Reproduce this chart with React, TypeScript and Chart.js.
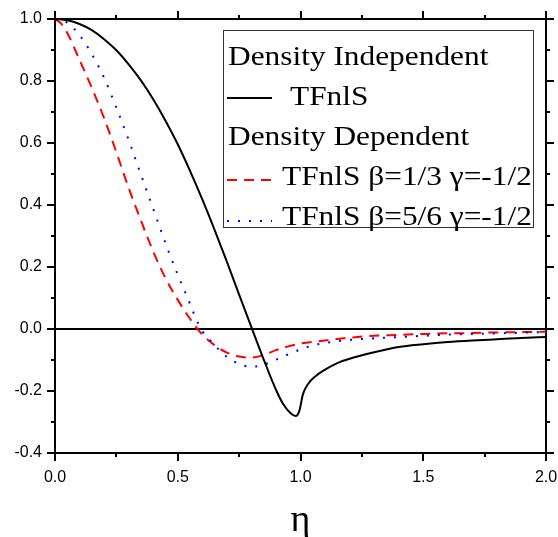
import React, { useEffect, useRef } from "react";
import { Chart, registerables } from "chart.js";

Chart.register(...registerables);

// ---- data ----
const etaBlack = [0, 0.05, 0.1, 0.15, 0.2, 0.25, 0.3, 0.35, 0.4, 0.45, 0.5, 0.55, 0.6, 0.65, 0.7, 0.75, 0.8, 0.85, 0.9, 0.93, 0.96, 0.98, 0.995, 1.01, 1.03, 1.06, 1.1, 1.15, 1.2, 1.3, 1.4, 1.5, 1.6, 1.7, 1.8, 1.9, 2.0];
const valBlack = [1.0, 0.996, 0.984, 0.964, 0.935, 0.899, 0.854, 0.802, 0.741, 0.672, 0.596, 0.51, 0.418, 0.32, 0.217, 0.111, 0.006, -0.098, -0.196, -0.243, -0.272, -0.281, -0.265, -0.21, -0.178, -0.153, -0.131, -0.11, -0.096, -0.075, -0.058, -0.049, -0.042, -0.037, -0.033, -0.029, -0.026];

const etaRed = [0, 0.025, 0.05, 0.1, 0.15, 0.2, 0.25, 0.3, 0.35, 0.4, 0.45, 0.5, 0.55, 0.6, 0.65, 0.7, 0.75, 0.8, 0.85, 0.9, 0.95, 1.0, 1.1, 1.2, 1.3, 1.4, 1.5, 1.6, 1.7, 1.8, 1.9, 2.0];
const valRed = [1.0, 0.985, 0.955, 0.868, 0.778, 0.68, 0.57, 0.455, 0.35, 0.25, 0.164, 0.094, 0.033, -0.018, -0.052, -0.076, -0.089, -0.092, -0.084, -0.068, -0.056, -0.047, -0.037, -0.028, -0.022, -0.019, -0.016, -0.014, -0.013, -0.011, -0.01, -0.009];

const etaBlue = [0, 0.05, 0.1, 0.15, 0.2, 0.25, 0.3, 0.35, 0.4, 0.45, 0.5, 0.55, 0.575, 0.6, 0.625, 0.65, 0.7, 0.75, 0.8, 0.85, 0.9, 0.95, 1.0, 1.05, 1.1, 1.2, 1.3, 1.4, 1.5, 1.6, 1.7, 1.8, 1.9, 2.0];
const valBlue = [1.0, 0.988, 0.948, 0.887, 0.81, 0.714, 0.61, 0.498, 0.388, 0.277, 0.175, 0.081, 0.032, -0.007, -0.03, -0.052, -0.09, -0.113, -0.122, -0.115, -0.099, -0.082, -0.066, -0.053, -0.045, -0.035, -0.03, -0.026, -0.022, -0.018, -0.016, -0.014, -0.012, -0.01];

const zeroLineEta = [0, 2];
const zeroLineVal = [0, 0];

const xMajorTicks = [0, 0.5, 1.0, 1.5, 2.0];
const xMinorTicks = [0.25, 0.75, 1.25, 1.75];
const yMajorTicks = [-0.4, -0.2, 0, 0.2, 0.4, 0.6, 0.8, 1.0];
const yMinorTicks = [-0.3, -0.1, 0.1, 0.3, 0.5, 0.7, 0.9];

const legendHeader1 = "Density Independent";
const legendHeader2 = "Density Dependent";
const seriesLabels = ["TFnlS", "TFnlS \u03B2=1/3 \u03B3=-1/2", "TFnlS \u03B2=5/6 \u03B3=-1/2"];
const xTitle = "\u03B7";

const pairs = (xs: number[], ys: number[]) => xs.map((x, i) => ({ x, y: ys[i] }));

const SERIF = '"Liberation Serif", "Times New Roman", serif';
const SANS = '"Liberation Sans", Arial, sans-serif';

const tickPlugin = {
  id: "tickMarks",
  afterDraw(chart: any) {
    const ctx = chart.ctx;
    const { left, right, top, bottom } = chart.chartArea;
    const xs = chart.scales.x;
    const ys = chart.scales.y;
    ctx.save();
    ctx.strokeStyle = "#000";
    ctx.lineWidth = 2;
    const major = 8, minor = 4;
    const drawX = (v: number, len: number) => {
      const px = Math.round(xs.getPixelForValue(v));
      ctx.beginPath();
      ctx.moveTo(px, bottom);
      ctx.lineTo(px, bottom + len);
      ctx.moveTo(px, top);
      ctx.lineTo(px, top - len);
      ctx.stroke();
    };
    const drawY = (v: number, len: number) => {
      const py = Math.round(ys.getPixelForValue(v));
      ctx.beginPath();
      ctx.moveTo(left, py);
      ctx.lineTo(left - len, py);
      ctx.moveTo(right, py);
      ctx.lineTo(right + len, py);
      ctx.stroke();
    };
    xMajorTicks.forEach((v) => drawX(v, major));
    xMinorTicks.forEach((v) => drawX(v, minor));
    yMajorTicks.forEach((v) => drawY(v, major));
    yMinorTicks.forEach((v) => drawY(v, minor));

    // axis title
    ctx.fillStyle = "#000";
    ctx.font = `38px ${SERIF}`;
    ctx.textAlign = "center";
    ctx.textBaseline = "alphabetic";
    ctx.fillText(xTitle, (left + right) / 2, 531);

    // legend
    const bx = 223, by = 30, bw = 310, bh = 197;
    ctx.fillStyle = "#fff";
    ctx.fillRect(bx, by, bw, bh);
    ctx.strokeStyle = "#333";
    ctx.lineWidth = 1;
    ctx.strokeRect(bx + 0.5, by + 0.5, bw, bh);

    const text = (s: string, x: number, y: number) => {
      ctx.save();
      ctx.translate(x, y);
      ctx.scale(1.12, 1);
      ctx.fillStyle = "#000";
      ctx.font = `28px ${SERIF}`;
      ctx.textAlign = "left";
      ctx.textBaseline = "alphabetic";
      ctx.fillText(s, 0, 0);
      ctx.restore();
    };
    const sample = (y: number, color: string, dash: number[]) => {
      ctx.save();
      ctx.strokeStyle = color;
      ctx.lineWidth = 2;
      ctx.setLineDash(dash);
      ctx.beginPath();
      ctx.moveTo(227, y);
      ctx.lineTo(272, y);
      ctx.stroke();
      ctx.restore();
    };
    text(legendHeader1, 228, 65);
    sample(98, "#000", []);
    text(seriesLabels[0], 290, 105);
    text(legendHeader2, 228, 145);
    sample(180, "#ff0000", [10, 7]);
    text(seriesLabels[1], 282, 185);
    sample(221, "#0000ff", [2, 9]);
    text(seriesLabels[2], 282, 225);
    ctx.restore();
  },
};

const fmt = (v: any) => {
  const n = Math.abs(Number(v)) < 1e-9 ? 0 : Number(v);
  return n.toFixed(1);
};

const noPad = (s: any) => {
  s.paddingLeft = 0;
  s.paddingRight = 0;
  s.paddingTop = 0;
  s.paddingBottom = 0;
};

export default function App() {
  const ref = useRef<HTMLCanvasElement | null>(null);
  useEffect(() => {
    if (!ref.current) return;
    const chart = new Chart(ref.current, {
      type: "line",
      data: {
        datasets: [
          {
            label: "zero",
            data: pairs(zeroLineEta, zeroLineVal),
            borderColor: "#000",
            borderWidth: 2,
            pointRadius: 0,
            order: 4,
          },
          {
            label: seriesLabels[0],
            data: pairs(etaBlack, valBlack),
            borderColor: "#000",
            borderWidth: 2,
            pointRadius: 0,
            cubicInterpolationMode: "monotone",
            order: 1,
          },
          {
            label: seriesLabels[1],
            data: pairs(etaRed, valRed),
            borderColor: "#ff0000",
            borderWidth: 2,
            borderDash: [10, 7],
            pointRadius: 0,
            cubicInterpolationMode: "monotone",
            order: 3,
          },
          {
            label: seriesLabels[2],
            data: pairs(etaBlue, valBlue),
            borderColor: "#0000ff",
            borderWidth: 2,
            borderDash: [2, 9],
            pointRadius: 0,
            cubicInterpolationMode: "monotone",
            order: 2,
          },
        ],
      },
      options: {
        animation: false,
        responsive: false,
        maintainAspectRatio: false,
        layout: { padding: 0 },
        plugins: { legend: { display: false }, tooltip: { enabled: false } },
        scales: {
          x: {
            type: "linear",
            position: "bottom",
            min: 0,
            max: 2,
            grid: { display: false, drawTicks: false },
            border: { display: true, color: "#000", width: 2 },
            ticks: {
              stepSize: 0.5,
              callback: fmt,
              color: "#000",
              font: { family: SANS, size: 16 },
              padding: 15,
              maxRotation: 0,
            },
            afterFit: (s: any) => { s.height = 84; noPad(s); },
          },
          x2: {
            type: "linear",
            position: "top",
            min: 0,
            max: 2,
            grid: { display: false, drawTicks: false },
            border: { display: true, color: "#000", width: 2 },
            ticks: { display: false },
            afterFit: (s: any) => { s.height = 19; noPad(s); },
          },
          y: {
            type: "linear",
            position: "left",
            min: -0.4,
            max: 1.0,
            grid: { display: false, drawTicks: false },
            border: { display: true, color: "#000", width: 2 },
            ticks: {
              stepSize: 0.2,
              callback: fmt,
              color: "#000",
              font: { family: SANS, size: 16 },
              padding: 13,
            },
            afterFit: (s: any) => { s.width = 55; noPad(s); },
          },
          y2: {
            type: "linear",
            position: "right",
            min: -0.4,
            max: 1.0,
            grid: { display: false, drawTicks: false },
            border: { display: true, color: "#000", width: 2 },
            ticks: { display: false },
            afterFit: (s: any) => { s.width = 12; noPad(s); },
          },
        },
      },
      plugins: [tickPlugin],
    } as any);
    return () => chart.destroy();
  }, []);
  return (
    <div style={{ position: "absolute", left: 0, top: 0, width: 558, height: 537, background: "#fff" }}>
      <canvas ref={ref} width={558} height={537} style={{ display: "block" }} />
    </div>
  );
}
